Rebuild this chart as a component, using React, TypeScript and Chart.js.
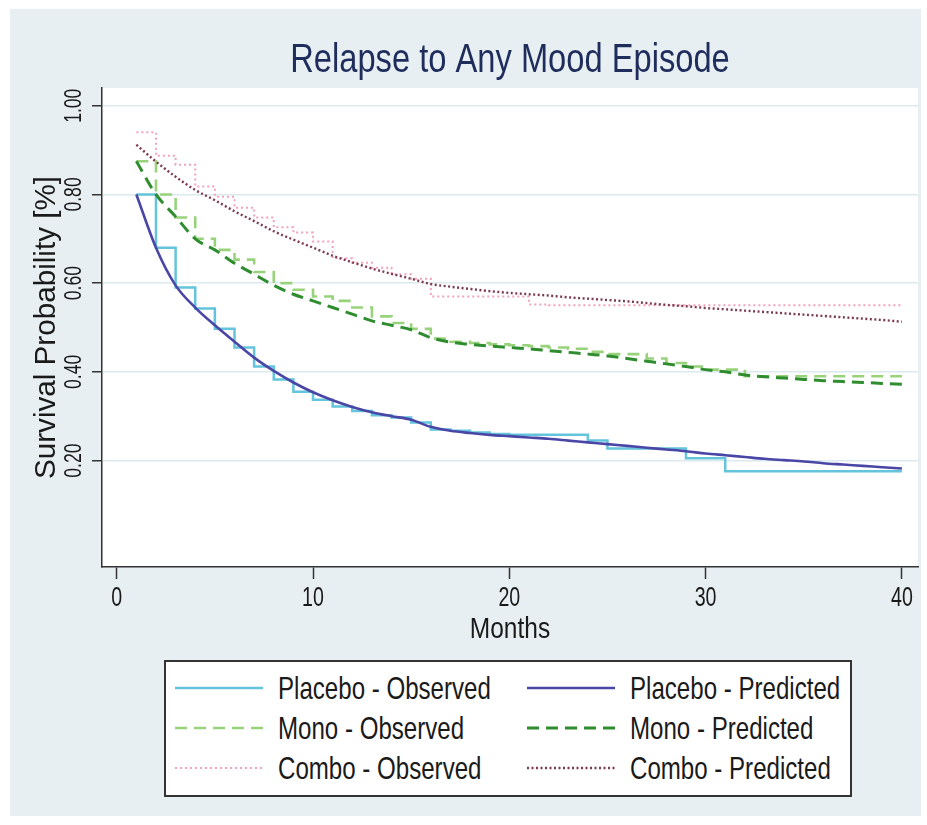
import React, { useEffect, useMemo, useRef } from 'react';
import { Chart, registerables } from 'chart.js';

Chart.register(...registerables);

// ---------------- data ----------------
const months = [1, 2, 3, 4, 5, 6, 7, 8, 9, 10, 11, 12, 13, 14, 15, 16, 17, 18, 19, 20, 21, 22, 23, 24, 25, 26, 27, 28, 29, 30, 31, 32, 33, 34, 35, 36, 37, 38, 39, 40];

const placeboObserved = [0.80, 0.68, 0.59, 0.543, 0.497, 0.455, 0.412, 0.383, 0.355, 0.337, 0.322, 0.312, 0.302, 0.297, 0.286, 0.270, 0.267, 0.263, 0.260, 0.258, 0.258, 0.258, 0.258, 0.245, 0.227, 0.227, 0.227, 0.227, 0.205, 0.205, 0.176, 0.176, 0.176, 0.176, 0.176, 0.176, 0.176, 0.176, 0.176, 0.176];
const placeboPredicted = [0.80, 0.68, 0.595, 0.545, 0.505, 0.468, 0.432, 0.402, 0.376, 0.354, 0.336, 0.321, 0.309, 0.300, 0.292, 0.276, 0.267, 0.262, 0.258, 0.255, 0.252, 0.249, 0.245, 0.241, 0.237, 0.233, 0.229, 0.225, 0.221, 0.216, 0.212, 0.208, 0.204, 0.201, 0.198, 0.194, 0.191, 0.188, 0.185, 0.182];
const monoObserved = [0.875, 0.80, 0.748, 0.70, 0.675, 0.653, 0.625, 0.60, 0.585, 0.57, 0.56, 0.545, 0.525, 0.51, 0.497, 0.475, 0.468, 0.465, 0.462, 0.46, 0.458, 0.455, 0.452, 0.445, 0.44, 0.44, 0.43, 0.42, 0.412, 0.405, 0.405, 0.39, 0.39, 0.39, 0.39, 0.39, 0.39, 0.39, 0.39, 0.39];
const monoPredicted = [0.875, 0.80, 0.75, 0.70, 0.675, 0.645, 0.62, 0.595, 0.575, 0.56, 0.545, 0.53, 0.515, 0.505, 0.495, 0.477, 0.467, 0.462, 0.458, 0.455, 0.452, 0.448, 0.444, 0.44, 0.436, 0.43, 0.424, 0.418, 0.412, 0.405, 0.40, 0.393, 0.389, 0.386, 0.383, 0.38, 0.378, 0.376, 0.374, 0.372];
const comboObserved = [0.94, 0.887, 0.867, 0.818, 0.795, 0.77, 0.748, 0.726, 0.714, 0.694, 0.656, 0.646, 0.635, 0.62, 0.61, 0.57, 0.57, 0.57, 0.57, 0.57, 0.552, 0.55, 0.55, 0.55, 0.55, 0.55, 0.55, 0.55, 0.55, 0.55, 0.55, 0.55, 0.55, 0.55, 0.55, 0.55, 0.55, 0.55, 0.55, 0.55];
const comboPredicted = [0.912, 0.874, 0.84, 0.81, 0.787, 0.762, 0.74, 0.717, 0.698, 0.68, 0.662, 0.647, 0.633, 0.621, 0.61, 0.598, 0.592, 0.587, 0.582, 0.578, 0.575, 0.572, 0.568, 0.565, 0.562, 0.559, 0.555, 0.551, 0.548, 0.544, 0.541, 0.538, 0.535, 0.532, 0.529, 0.526, 0.523, 0.52, 0.517, 0.513];

const xTickValues = [0, 10, 20, 30, 40];
const yTickValues = [0.2, 0.4, 0.6, 0.8, 1.0];

const seriesNames = ['Placebo - Observed', 'Placebo - Predicted', 'Mono - Observed', 'Mono - Predicted', 'Combo - Observed', 'Combo - Predicted'];
const chartTitle = 'Relapse to Any Mood Episode';
const xAxisTitle = 'Months';
const yAxisTitle = 'Survival Probability [%]';

// ---------------- layout / style ----------------
const W = 927;
const H = 825;
const PLOT = { left: 102, right: 918, top: 88, bottom: 567 };
const X_MIN = -0.75;
const X_MAX = 40.82;
const Y_MIN = -0.04;
const Y_MAX = 1.04;

const FAMILY = "'Liberation Sans', Arial, sans-serif";

// font size (px) and the ink width wanted for a sample string (text is horizontally condensed)
const TEXT_SPECS = {
  title: { size: 40, sample: chartTitle, ink: 436 },
  xTick: { size: 28, sample: '10', ink: 20 },
  yTick: { size: 24, sample: '0.80', ink: 34 },
  xTitle: { size: 30, sample: xAxisTitle, ink: 78 },
  yTitle: { size: 29, sample: yAxisTitle, ink: 300 },
  legend: { size: 32, sample: 'Placebo - Observed', ink: 210 },
};

const STYLES = [
  { color: '#63c4dc', width: 2.5, dash: [] as number[], stepped: true, order: 2 },
  { color: '#4a46a6', width: 2.6, dash: [] as number[], stepped: false, order: 1 },
  { color: '#98d37c', width: 2.6, dash: [12, 7], stepped: true, order: 2 },
  { color: '#2f8d2f', width: 3, dash: [12, 7], stepped: false, order: 1 },
  { color: '#f2a3b9', width: 2, dash: [2, 3], stepped: true, order: 2 },
  { color: '#7d3a4e', width: 2.4, dash: [2, 2.5], stepped: false, order: 1 },
];

function computeScales() {
  const ctx = document.createElement('canvas').getContext('2d') as CanvasRenderingContext2D;
  const out: Record<string, { size: number; sx: number; adv: number }> = {};
  for (const [key, spec] of Object.entries(TEXT_SPECS)) {
    ctx.font = `${spec.size}px ${FAMILY}`;
    const m = ctx.measureText(spec.sample);
    const ink = (m.actualBoundingBoxLeft || 0) + (m.actualBoundingBoxRight || m.width);
    out[key] = { size: spec.size, sx: spec.ink / (ink || m.width), adv: m.width };
  }
  ctx.font = `${TEXT_SPECS.yTick.size}px ${FAMILY}`;
  out.yTickWidest = { size: 0, sx: 1, adv: ctx.measureText('0.80').width };
  return out;
}

const LEGEND_BOX = { left: 164, top: 660, width: 688, height: 137 };
const LEGEND_ROWS = [688, 728, 768];
const LEGEND_COLS = [
  { lineX: 175, textX: 278 },
  { lineX: 527, textX: 630 },
];

export default function App() {
  const canvasRef = useRef<HTMLCanvasElement | null>(null);
  const ts = useMemo(() => computeScales(), []);

  useEffect(() => {
    const canvas = canvasRef.current;
    if (!canvas) return;
    const ctx2d = canvas.getContext('2d') as any;
    const scaleTable: Array<[number, number]> = ['title', 'xTick', 'yTick', 'xTitle', 'yTitle'].map((k) => [ts[k].size, ts[k].sx]);
    const origFill = CanvasRenderingContext2D.prototype.fillText;
    // draw text horizontally condensed, like the reference's narrow lettering
    ctx2d.fillText = function (text: string, x: number, y: number, maxWidth?: number) {
      const m = /([\d.]+)px/.exec(this.font);
      const size = m ? parseFloat(m[1]) : 0;
      let sx = 1;
      for (const [s, k] of scaleTable) if (Math.abs(s - size) < 0.01) sx = k;
      this.save();
      this.translate(x, y);
      this.scale(sx, 1);
      if (maxWidth === undefined) origFill.call(this, text, 0, 0);
      else origFill.call(this, text, 0, 0, maxWidth / sx);
      this.restore();
    };

    const seriesValues = [placeboObserved, placeboPredicted, monoObserved, monoPredicted, comboObserved, comboPredicted];

    const plotBg = {
      id: 'plotBg',
      beforeDraw(chart: any) {
        const { ctx, chartArea: a } = chart;
        ctx.save();
        ctx.fillStyle = '#ffffff';
        ctx.fillRect(a.left, a.top, a.right - a.left, a.bottom - a.top);
        ctx.restore();
      },
    };

    const datasets = seriesNames.map((name, i) => ({
      label: name,
      data: months.map((m, j) => ({ x: m, y: seriesValues[i][j] })),
      borderColor: STYLES[i].color,
      backgroundColor: STYLES[i].color,
      borderWidth: STYLES[i].width,
      borderDash: STYLES[i].dash,
      stepped: STYLES[i].stepped ? ('before' as const) : false,
      cubicInterpolationMode: STYLES[i].stepped ? ('default' as const) : ('monotone' as const),
      pointRadius: 0,
      pointHoverRadius: 0,
      fill: false,
      order: STYLES[i].order,
      borderCapStyle: 'butt' as const,
    }));

    const titleLH = ts.title.size * 1.2;
    const titleTop = 61 - titleLH / 2;
    const titleBottom = Math.max(0, PLOT.top - titleTop - titleLH);

    const xTickPad = 598 - PLOT.bottom - 12 - 0.6 * ts.xTick.size;
    const xTitlePadBottom = H - 630 - 0.6 * ts.xTitle.size;
    const yTickPad = PLOT.left - 10 - ts.yTickWidest.adv / 2 - 74;
    const yTitlePadTop = 47 - 0.6 * ts.yTitle.size;

    const chart = new Chart(canvas, {
      type: 'line',
      data: { datasets: datasets as any },
      options: {
        responsive: false,
        animation: false,
        devicePixelRatio: 1,
        events: [],
        layout: { padding: { left: 0, right: W - PLOT.right, top: 0, bottom: 0 } },
        plugins: {
          legend: { display: false },
          tooltip: { enabled: false },
          title: {
            display: true,
            text: chartTitle,
            color: '#1f2d5c',
            fullSize: false,
            font: { family: FAMILY, size: ts.title.size, weight: 'normal', lineHeight: 1.2 },
            padding: { top: titleTop, bottom: titleBottom },
          },
        },
        scales: {
          x: {
            type: 'linear',
            min: X_MIN,
            max: X_MAX,
            afterBuildTicks: (s: any) => {
              s.ticks = xTickValues.map((v) => ({ value: v }));
            },
            afterFit: (s: any) => {
              s.height = H - PLOT.bottom;
            },
            grid: { display: true, drawOnChartArea: false, drawTicks: true, tickLength: 12, tickColor: '#333333', tickWidth: 1.5 },
            border: { display: true, color: '#333333', width: 1.5 },
            ticks: {
              color: '#1a1a1a',
              font: { family: FAMILY, size: ts.xTick.size, lineHeight: 1.2 },
              padding: xTickPad,
              maxRotation: 0,
              minRotation: 0,
              autoSkip: false,
              callback: (v: any) => String(v),
            },
            title: {
              display: true,
              text: xAxisTitle,
              color: '#1a1a1a',
              font: { family: FAMILY, size: ts.xTitle.size, lineHeight: 1.2 },
              padding: { top: 0, bottom: xTitlePadBottom },
            },
          },
          y: {
            type: 'linear',
            min: Y_MIN,
            max: Y_MAX,
            afterBuildTicks: (s: any) => {
              s.ticks = yTickValues.map((v) => ({ value: v }));
            },
            afterFit: (s: any) => {
              s.width = PLOT.left;
            },
            grid: { display: true, drawOnChartArea: true, color: '#dce9ee', lineWidth: 1.5, drawTicks: true, tickLength: 10, tickColor: '#333333', tickWidth: 1.5 },
            border: { display: true, color: '#333333', width: 1.5 },
            ticks: {
              color: '#1a1a1a',
              font: { family: FAMILY, size: ts.yTick.size, lineHeight: 1.2 },
              padding: yTickPad,
              minRotation: 90,
              maxRotation: 90,
              crossAlign: 'center',
              autoSkip: false,
              callback: (v: any) => Number(v).toFixed(2),
            },
            title: {
              display: true,
              text: yAxisTitle,
              color: '#1a1a1a',
              font: { family: FAMILY, size: ts.yTitle.size, lineHeight: 1.2 },
              padding: { top: yTitlePadTop, bottom: 0 },
            },
          },
        },
      } as any,
      plugins: [plotBg],
    });
    return () => {
      chart.destroy();
      delete ctx2d.fillText;
    };
  }, [ts]);

  return (
    <div style={{ position: 'absolute', left: 0, top: 0, width: W, height: H, background: '#ffffff', overflow: 'hidden' }}>
      <div style={{ position: 'absolute', left: 10, top: 9, width: 911, height: 807, background: '#e8eff2' }} />
      <canvas ref={canvasRef} width={W} height={H} style={{ position: 'absolute', left: 0, top: 0, width: W, height: H }} />
      <div
        style={{
          position: 'absolute',
          left: LEGEND_BOX.left,
          top: LEGEND_BOX.top,
          width: LEGEND_BOX.width,
          height: LEGEND_BOX.height,
          boxSizing: 'border-box',
          border: '2px solid #333333',
          background: '#ffffff',
        }}
      />
      {seriesNames.map((name, i) => {
        const row = Math.floor(i / 2);
        const col = LEGEND_COLS[i % 2];
        const cy = LEGEND_ROWS[row];
        const st = STYLES[i];
        return (
          <React.Fragment key={name}>
            <svg style={{ position: 'absolute', left: col.lineX, top: cy - 6 }} width={88} height={12}>
              <line x1={0} y1={6} x2={88} y2={6} stroke={st.color} strokeWidth={st.width} strokeDasharray={st.dash.length ? st.dash.join(' ') : undefined} />
            </svg>
            <div
              style={{
                position: 'absolute',
                left: col.textX,
                top: cy - 20,
                height: 40,
                lineHeight: '40px',
                fontFamily: FAMILY,
                fontSize: ts.legend.size,
                color: '#1a1a1a',
                whiteSpace: 'nowrap',
                transform: `scaleX(${ts.legend.sx})`,
                transformOrigin: 'left center',
              }}
            >
              {name}
            </div>
          </React.Fragment>
        );
      })}
    </div>
  );
}
